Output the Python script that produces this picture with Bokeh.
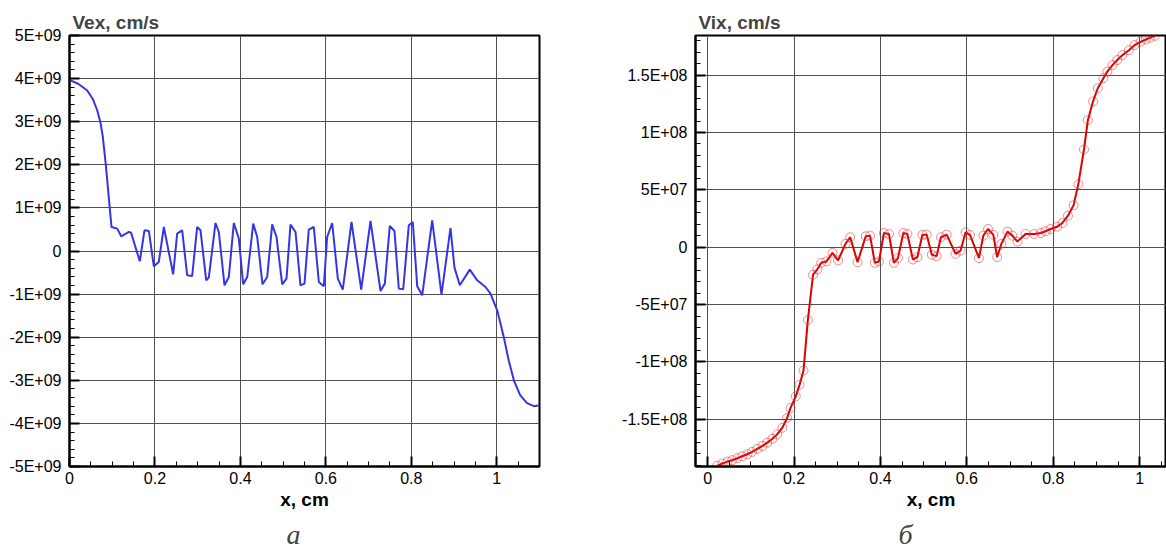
from bokeh.plotting import figure
from bokeh.layouts import row
from bokeh.models import FixedTicker, Title
from bokeh.embed import file_html
from bokeh.resources import INLINE

# ---------------- data ----------------
# panel a: Vex (cm/s) vs x (cm)
vex_x = [0.0, 0.02, 0.041, 0.055, 0.065, 0.072, 0.078, 0.085, 0.0983, 0.1116, 0.121,
         0.139, 0.144, 0.1646, 0.1755, 0.1857, 0.1974, 0.209, 0.2208, 0.2426, 0.252,
         0.2637, 0.2754, 0.2871, 0.2988, 0.3066, 0.320, 0.326, 0.3417, 0.3495, 0.3628,
         0.3729, 0.3846, 0.3963, 0.4065, 0.416, 0.430, 0.4393, 0.4517, 0.4627, 0.4744,
         0.4845, 0.4978, 0.5079, 0.5172, 0.529, 0.5406, 0.550, 0.560, 0.5718, 0.5835,
         0.5952, 0.603, 0.6148, 0.628, 0.6396, 0.660, 0.6827, 0.7045, 0.7279, 0.738,
         0.7496, 0.7606, 0.7707, 0.781, 0.7941, 0.8035, 0.8138, 0.8255, 0.8489, 0.8706,
         0.8917, 0.901, 0.9135, 0.9369, 0.9542, 0.9736, 0.9853, 1.001, 1.0165, 1.028,
         1.040, 1.055, 1.071, 1.087, 1.1]
vex_y = [3.97, 3.88, 3.73, 3.52, 3.26, 3.0, 2.65, 2.0, 0.557, 0.519, 0.341,
         0.441, 0.426, -0.239, 0.480, 0.465, -0.355, -0.255, 0.557, -0.541, 0.403,
         0.480, -0.564, -0.579, 0.557, 0.480, -0.680, -0.618, 0.650, 0.441, -0.796,
         -0.603, 0.650, 0.287, -0.773, -0.603, 0.635, 0.325, -0.773, -0.603, 0.619,
         0.325, -0.773, -0.641, 0.612, 0.441, -0.796, -0.757, 0.496, 0.557, -0.719,
         -0.819, 0.325, 0.650, -0.641, -0.896, 0.673, -0.896, 0.696, -0.928, -0.757,
         0.580, 0.464, -0.873, -0.889, 0.596, 0.673, -0.819, -1.028, 0.712, -1.012,
         0.534, -0.386, -0.796, -0.433, -0.680, -0.835, -0.989, -1.376, -2.0, -2.54,
         -3.0, -3.35, -3.53, -3.60, -3.58]
vex_scale = 1e9

# panel б: Vix (cm/s) vs x (cm)
vix_x = [0.022, 0.034, 0.046, 0.057, 0.069, 0.080, 0.092, 0.103, 0.115, 0.127, 0.138,
         0.150, 0.161, 0.173, 0.184, 0.192, 0.204, 0.213, 0.222, 0.232, 0.244, 0.254,
         0.263, 0.275, 0.289, 0.302, 0.319, 0.330, 0.347, 0.366, 0.376, 0.387, 0.3966,
         0.408, 0.4197, 0.431, 0.4405, 0.453, 0.4623, 0.475, 0.4854, 0.497, 0.5069,
         0.519, 0.530, 0.540, 0.5532, 0.574, 0.5856, 0.597, 0.6072, 0.628, 0.6381,
         0.649, 0.6613, 0.670, 0.6798, 0.694, 0.7053, 0.717, 0.736, 0.756, 0.771,
         0.782, 0.794, 0.809, 0.821, 0.834, 0.847, 0.858, 0.871, 0.880, 0.892, 0.903,
         0.916, 0.925, 0.937, 0.948, 0.960, 0.975, 0.988, 1.002, 1.014, 1.024, 1.035]
vix_y = [-19.06, -18.86, -18.69, -18.57, -18.40, -18.23, -18.05, -17.85, -17.59, -17.33,
         -17.04, -16.70, -16.32, -15.74, -14.88, -14.01, -13.0, -11.98, -10.75, -6.35,
         -2.40, -1.93, -1.36, -1.24, -0.49, -1.15, 0.29, 0.87, -1.30, 0.95, 1.01, -1.36,
         -1.24, 1.24, 1.15, -1.36, -0.95, 1.24, 1.15, -1.07, -0.87, 1.07, 1.10, -0.66,
         -0.78, 0.87, 1.10, -0.58, -0.29, 1.30, 1.07, -0.95, 1.01, 1.59, 1.07, -0.87,
         0.29, 1.36, 1.01, 0.49, 1.15, 1.15, 1.24, 1.39, 1.59, 1.79, 2.11, 2.75, 3.67,
         5.5, 8.52, 11.07, 12.71, 13.86, 14.73, 15.31, 15.88, 16.32, 16.75, 17.18, 17.62,
         17.91, 18.11, 18.28, 18.43]
vix_scale = 1e7

# ticks
a_xticks = [0.0, 0.2, 0.4, 0.6, 0.8, 1.0]
a_xlabels = ["0", "0.2", "0.4", "0.6", "0.8", "1"]
a_yticks = [-5e9, -4e9, -3e9, -2e9, -1e9, 0.0, 1e9, 2e9, 3e9, 4e9, 5e9]
a_ylabels = ["-5E+09", "-4E+09", "-3E+09", "-2E+09", "-1E+09", "0",
             "1E+09", "2E+09", "3E+09", "4E+09", "5E+09"]
b_xticks = a_xticks
b_xlabels = a_xlabels
b_yticks = [-1.5e8, -1e8, -5e7, 0.0, 5e7, 1e8, 1.5e8]
b_ylabels = ["-1.5E+08", "-1E+08", "-5E+07", "0", "5E+07", "1E+08", "1.5E+08"]

FONT = "Liberation Sans"


def minor_list(lo, hi, step):
    out = []
    n = int(round((hi - lo) / step))
    for i in range(n + 1):
        out.append(round(lo + i * step, 12))
    return out


def style(p, xticks, xlabels, xminor, yticks, ylabels, yminor, ytitle, caption, cap_offset):
    p.xaxis.ticker = FixedTicker(ticks=xticks, minor_ticks=xminor)
    p.yaxis.ticker = FixedTicker(ticks=yticks, minor_ticks=yminor)
    p.xaxis.major_label_overrides = {t: l for t, l in zip(xticks, xlabels)}
    p.yaxis.major_label_overrides = {t: l for t, l in zip(yticks, ylabels)}
    for ax in (p.xaxis[0], p.yaxis[0]):
        ax.axis_line_width = 2
        ax.axis_line_color = "black"
        ax.major_tick_line_width = 2
        ax.major_tick_line_color = "black"
        ax.minor_tick_line_color = "black"
        ax.major_tick_out = 0
        ax.major_tick_in = 10
        ax.minor_tick_out = 0
        ax.minor_tick_in = 5
        ax.major_label_text_font = FONT
        ax.major_label_text_font_size = "16px"
        ax.major_label_text_color = "black"
    p.xaxis.major_label_standoff = 5
    p.yaxis.major_label_standoff = 8
    p.xaxis.axis_label = "x, cm"
    p.xaxis.axis_label_text_font = FONT
    p.xaxis.axis_label_text_font_style = "bold"
    p.xaxis.axis_label_text_font_size = "19px"
    p.xaxis.axis_label_standoff = 2
    p.xaxis.axis_label_text_color = "black"
    p.grid.grid_line_color = "#505050"
    p.grid.grid_line_width = 1
    p.outline_line_color = "black"
    p.outline_line_width = 2
    p.outline_line_alpha = 1
    p.title.text = ytitle
    p.title.text_font = FONT
    p.title.text_font_style = "bold"
    p.title.text_font_size = "19px"
    p.title.align = "left"
    p.title.offset = 3
    p.title.standoff = 6
    cap = Title(text=caption, align="left", offset=cap_offset,
                text_font="Liberation Serif", text_font_style="italic",
                text_font_size="28px", standoff=8)
    p.add_layout(cap, "below")


pa = figure(width=580, height=558, output_backend="svg", toolbar_location=None,
            x_range=(0, 1.1), y_range=(-5e9, 5e9),
            min_border_left=69, min_border_right=41, min_border_top=35, min_border_bottom=92)
pa.line([v for v in vex_x], [v * vex_scale for v in vex_y], line_color="#3535e6", line_width=2)
style(pa, a_xticks, a_xlabels, minor_list(0, 1.1, 0.05), a_yticks, a_ylabels,
      minor_list(-5e9, 5e9, 2e8), "Vex, cm/s", "а", 217)

pb = figure(width=586, height=558, output_backend="svg", toolbar_location=None,
            x_range=(-0.028, 1.062), y_range=(-1.912e8, 1.846e8),
            min_border_left=115, min_border_right=0, min_border_top=32, min_border_bottom=92)
vy = [v * vix_scale for v in vix_y]
pb.line(vix_x, vy, line_color="#dd0000", line_width=2)
pb.scatter(vix_x, vy, marker="circle", size=9, fill_color=None,
           line_color="#e03030", line_alpha=0.55, line_width=1)
style(pb, b_xticks, b_xlabels, minor_list(0, 1.05, 0.05), b_yticks, b_ylabels,
      minor_list(-1.9e8, 1.8e8, 1e7), "Vix, cm/s", "б", 203)

layout = row(pa, pb)
open("out.html", "w").write(file_html(layout, INLINE))
